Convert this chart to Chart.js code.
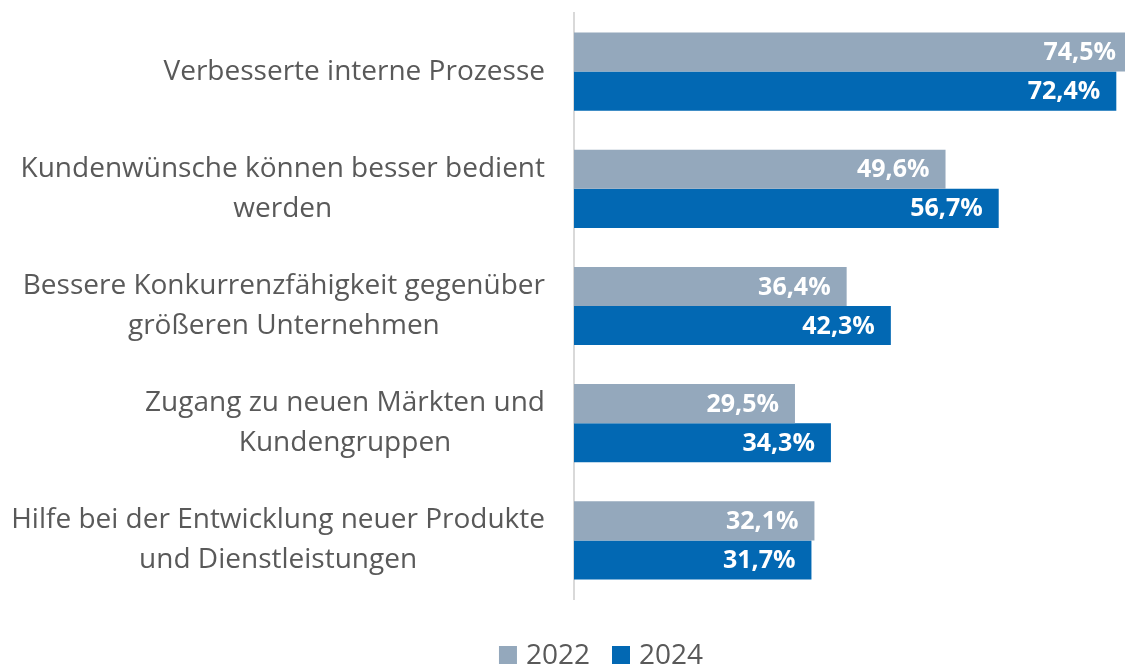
<!DOCTYPE html>
<html>
<head>
<meta charset="utf-8">
<script src="https://cdn.jsdelivr.net/npm/chart.js@4/dist/chart.umd.min.js"></script>
<style>
  html, body { margin: 0; padding: 0; background: #fff; }
  #wrap { width: 1125px; height: 668px; }
</style>
</head>
<body>
<div id="wrap"><canvas id="barchart" width="1125" height="668"></canvas></div>
<script>
const categories = [
  ['Verbesserte interne Prozesse'],
  ['Kundenwünsche können besser bedient', 'werden'],
  ['Bessere Konkurrenzfähigkeit gegenüber', 'größeren Unternehmen'],
  ['Zugang zu neuen Märkten und', 'Kundengruppen'],
  ['Hilfe bei der Entwicklung neuer Produkte', 'und Dienstleistungen']
];
const values2022 = [74.5, 49.6, 36.4, 29.5, 32.1];
const values2024 = [72.4, 56.7, 42.3, 34.3, 31.7];
const seriesNames = ['2022', '2024'];
const seriesColors = ['#94a8bc', '#0268b3'];

const FONT = '"Open Sans", sans-serif';
const TEXT = '#595959';

// category labels: centered lines, block right-aligned against the axis
const catLabels = {
  id: 'catLabels',
  afterDraw(chart) {
    const ctx = chart.ctx;
    const y = chart.scales.y;
    const right = chart.chartArea.left - 29;
    ctx.save();
    ctx.font = '28px ' + FONT;
    ctx.fillStyle = TEXT;
    ctx.textAlign = 'center';
    ctx.textBaseline = 'middle';
    categories.forEach((lines, i) => {
      const cy = y.getPixelForValue(i);
      const w = Math.max(...lines.map(l => ctx.measureText(l).width));
      const cx = right - w / 2;
      const lh = 40;
      lines.forEach((l, j) => {
        ctx.fillText(l, cx, cy + (j - (lines.length - 1) / 2) * lh);
      });
    });
    ctx.restore();
  }
};

// value labels inside the bar ends
const valueLabels = {
  id: 'valueLabels',
  afterDatasetsDraw(chart) {
    const ctx = chart.ctx;
    ctx.save();
    ctx.font = 'bold 25px ' + FONT;
    ctx.fillStyle = '#ffffff';
    ctx.textAlign = 'right';
    ctx.textBaseline = 'middle';
    chart.data.datasets.forEach((ds, di) => {
      chart.getDatasetMeta(di).data.forEach((bar, i) => {
        const txt = ds.data[i].toFixed(1).replace('.', ',') + '%';
        ctx.fillText(txt, bar.x - 16, bar.y + 1);
      });
    });
    ctx.restore();
  }
};

// legend centred under the whole picture, like the original
const bottomLegend = {
  id: 'bottomLegend',
  afterDraw(chart) {
    const ctx = chart.ctx;
    ctx.save();
    ctx.font = '28px ' + FONT;
    ctx.textBaseline = 'middle';
    ctx.textAlign = 'left';
    const box = 18, gapText = 9, gapItem = 22, cy = 655;
    const widths = seriesNames.map(n => box + gapText + ctx.measureText(n).width);
    const total = widths.reduce((a, b) => a + b, 0) + gapItem * (widths.length - 1);
    let x = 601 - total / 2;
    seriesNames.forEach((n, i) => {
      ctx.fillStyle = seriesColors[i];
      ctx.fillRect(x, cy - box / 2, box, box);
      ctx.fillStyle = TEXT;
      ctx.fillText(n, x + box + gapText, cy + 1);
      x += widths[i] + gapItem;
    });
    ctx.restore();
  }
};

new Chart(document.getElementById('barchart'), {
  type: 'bar',
  data: {
    labels: categories.map(c => c.join(' ')),
    datasets: [
      { label: seriesNames[0], data: values2022, backgroundColor: seriesColors[0] },
      { label: seriesNames[1], data: values2024, backgroundColor: seriesColors[1] }
    ]
  },
  options: {
    indexAxis: 'y',
    responsive: false,
    animation: false,
    events: [],
    layout: { padding: { left: 566, top: 13, right: 0, bottom: 69 } },
    datasets: { bar: { barPercentage: 1, categoryPercentage: 0.667 } },
    scales: {
      x: { display: false, min: 0, max: 73.56 },
      y: {
        ticks: { display: false },
        grid: { display: false },
        border: { display: true, color: '#d9d9d9', width: 2 }
      }
    },
    plugins: {
      tooltip: { enabled: false },
      legend: { display: false }
    }
  },
  plugins: [catLabels, valueLabels, bottomLegend]
});
</script>
</body>
</html>
